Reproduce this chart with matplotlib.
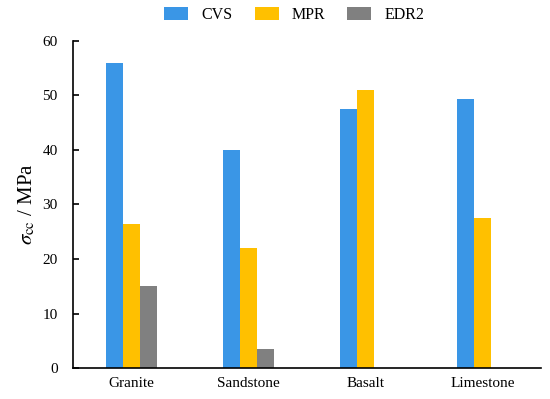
import numpy as np
import matplotlib
matplotlib.use('Agg')
import matplotlib.pyplot as plt

plt.rcParams['font.family'] = 'Liberation Serif'
plt.rcParams['mathtext.fontset'] = 'stix'

rocks = ['Granite', 'Sandstone', 'Basalt', 'Limestone']
cvs = [56.0, 40.0, 47.4, 49.3]
mpr = [26.5, 22.1, 51.0, 27.5]
edr2 = [15.1, 3.5, 0, 0]

fig = plt.figure(figsize=(5.5, 3.99), dpi=100)
ax = fig.add_axes([0.1327, 0.077, 0.851, 0.821])

x = np.arange(len(rocks))
w = 0.143
ax.bar(x - w, cvs, w, color='#3A96E6', label='CVS')
ax.bar(x, mpr, w, color='#FFC000', label='MPR')
ax.bar(x + w, edr2, w, color='#808080', label='EDR2')

ax.set_xlim(-0.5, 3.5)
ax.set_ylim(0, 60)
ax.set_yticks(range(0, 61, 10))
ax.set_xticks(x)
ax.set_xticklabels(rocks)
ax.tick_params(axis='x', length=0, labelsize=11, pad=6)
ax.tick_params(axis='y', direction='in', length=4, width=1.2, labelsize=11, pad=11)
for s in ['top', 'right']:
    ax.spines[s].set_visible(False)
for s in ['left', 'bottom']:
    ax.spines[s].set_linewidth(1.2)
ax.set_ylabel(r'$\sigma_{\rm cc}$ / MPa', fontsize=15, labelpad=4)

fig.legend(loc='center', bbox_to_anchor=(0.535, 0.963), ncol=3, frameon=False,
           fontsize=11.5, handlelength=1.5, handleheight=0.9,
           handletextpad=0.8, columnspacing=1.4)

plt.savefig('out.png')
